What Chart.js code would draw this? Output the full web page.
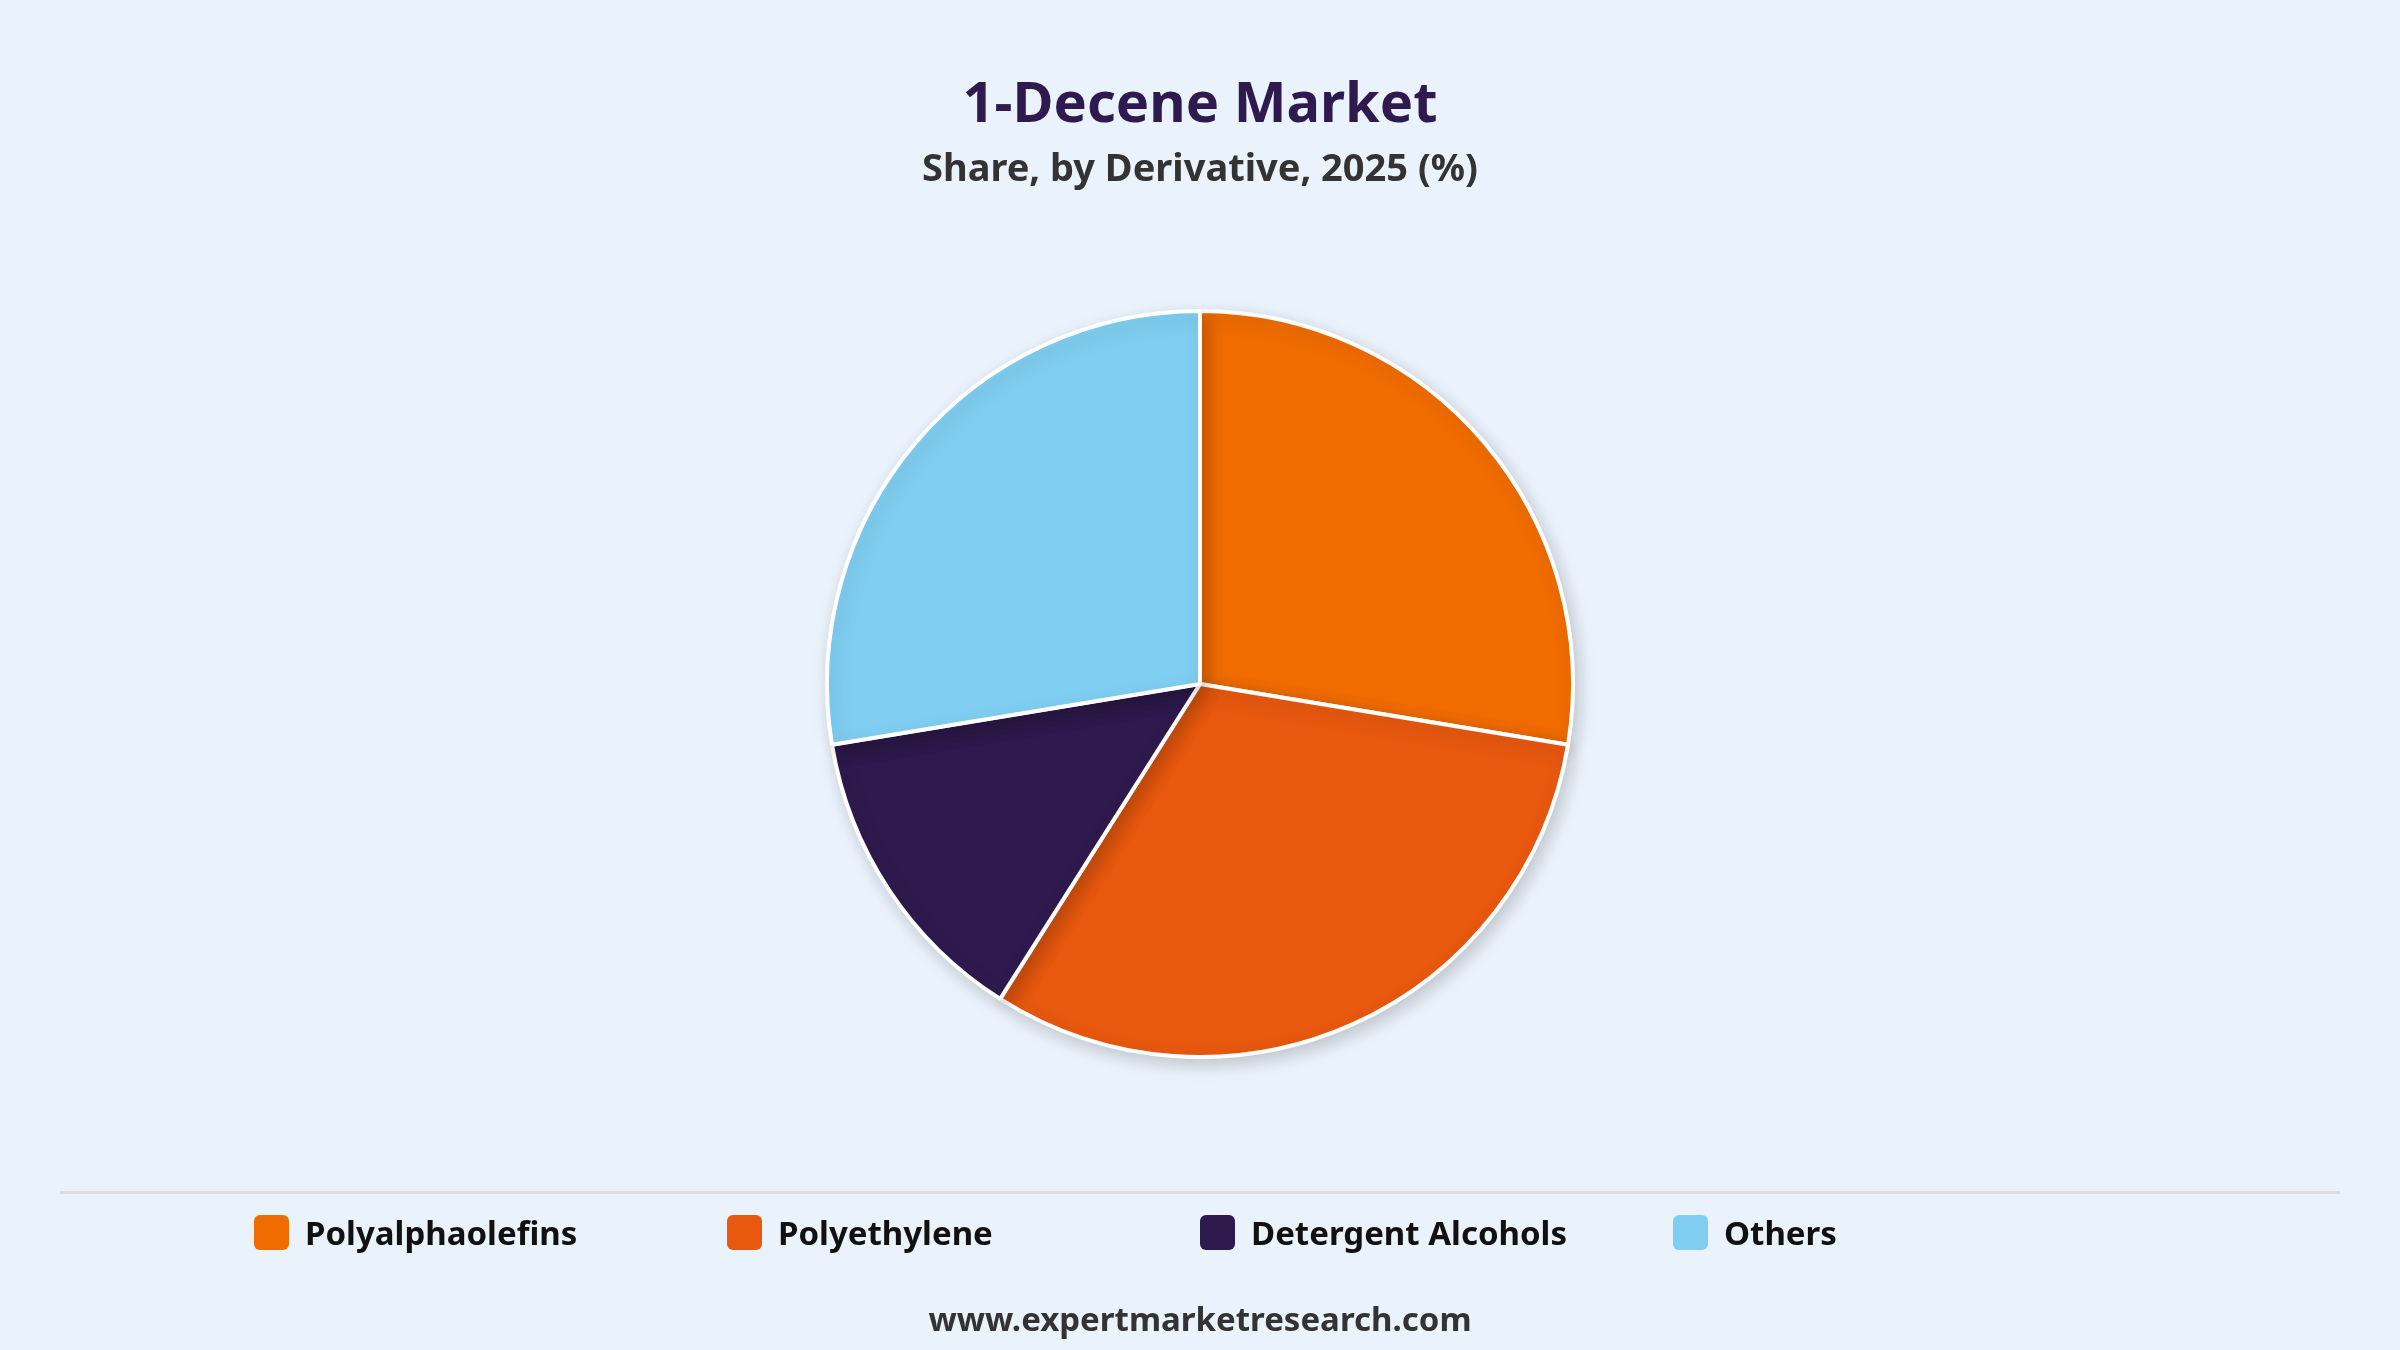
<!DOCTYPE html>
<html><head><meta charset="utf-8">
<script src="https://cdn.jsdelivr.net/npm/chart.js@4"></script>
<style>
html,body{margin:0;padding:0;background:#EAF2FB;width:2400px;height:1350px;overflow:hidden;font-family:"Noto Sans","Open Sans",sans-serif;}
#wrap{position:absolute;left:0;top:0;width:2400px;height:1350px;}
.t{position:absolute;left:0;width:2400px;text-align:center;font-weight:bold;}
#title{top:62px;font-size:56px;color:#2E1A4F;}
#sub{top:140px;font-size:38px;color:#333;}
#foot{top:1296px;font-size:33px;color:#333;}
#sep{position:absolute;left:60px;width:2280px;top:1191px;height:3px;background:#DADDE2;}
.lg{position:absolute;top:1210px;font-size:33px;font-weight:bold;color:#111;display:flex;align-items:center;}
.lg span{display:inline-block;width:35px;height:35px;border-radius:6px;margin-right:16px;}
</style></head><body>
<div id="wrap"><canvas id="c" width="2400" height="1350"></canvas></div>
<div class="t" id="title">1-Decene Market</div>
<div class="t" id="sub">Share, by Derivative, 2025 (%)</div>
<div id="sep"></div>
<div id="legend"></div>
<div class="t" id="foot">www.expertmarketresearch.com</div>
<script>
const categories=["Polyalphaolefins","Polyethylene","Detergent Alcohols","Others"];
const shares=[27.6,31.4,13.4,27.6];
const colors=["#F06C00","#E8580F","#2E1A4D","#7FCEF1"];
const legendX=[254,727,1200,1673];
const lg=document.getElementById('legend');
categories.forEach((c,i)=>{const d=document.createElement('div');d.className='lg';d.style.left=legendX[i]+'px';d.innerHTML='<span style="background:'+colors[i]+'"></span>'+c;lg.appendChild(d);});
const shadow={id:'shadow',beforeDatasetsDraw(ch){const x=ch.ctx;x.save();x.shadowColor='rgba(0,0,0,0.18)';x.shadowBlur=18;x.shadowOffsetX=4;x.shadowOffsetY=6;},afterDatasetsDraw(ch){ch.ctx.restore();}};
new Chart(document.getElementById('c'),{type:'pie',
data:{labels:categories,datasets:[{data:shares,backgroundColor:colors,borderColor:'#fff',borderWidth:4}]},
options:{responsive:false,animation:false,layout:{padding:{top:309,bottom:291}},
plugins:{legend:{display:false},tooltip:{enabled:false}}},plugins:[shadow]});
</script></body></html>
